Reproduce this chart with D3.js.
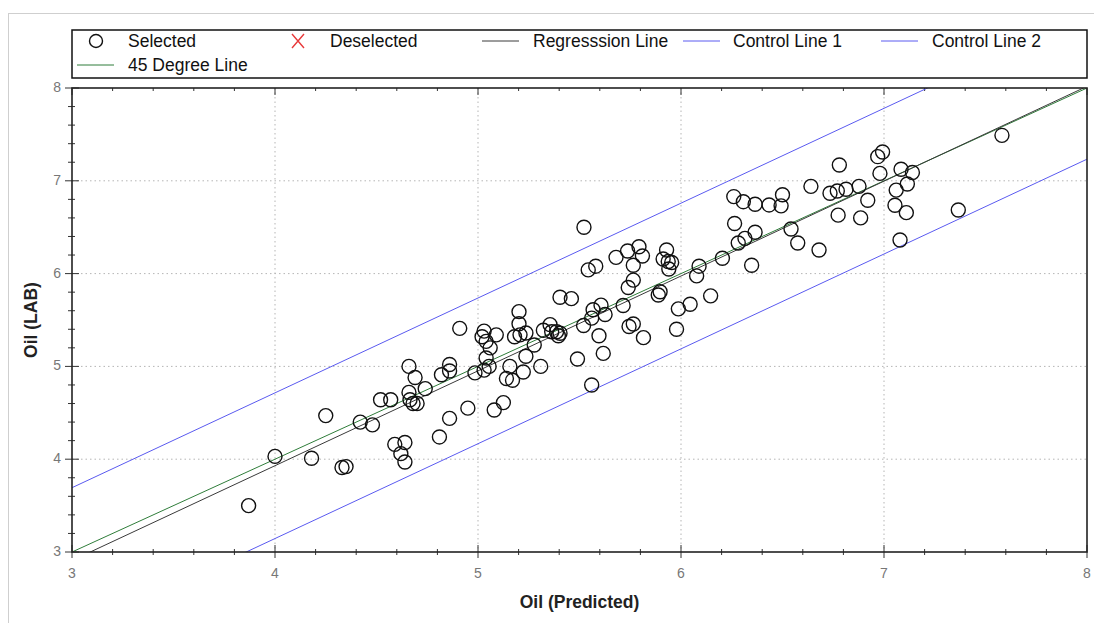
<!DOCTYPE html>
<html>
<head>
<meta charset="utf-8">
<script src="https://d3js.org/d3.v7.min.js"></script>
<style>
  body { margin: 0; background: #fff; }
  text { font-family: "Liberation Sans", Arial, sans-serif; }
  .tick-label { fill: #777; font-size: 14px; }
  .axis-title { font-size: 17.5px; font-weight: bold; fill: #222; }
  .legend-text { font-size: 17.5px; fill: #111; }
</style>
</head>
<body>
<div id="chart"></div>
<script>
// values
var predicted = [3.87, 4.00, 4.18, 4.25, 4.33, 4.35, 4.42, 4.48, 4.52, 4.57,
    4.59, 4.64, 4.62, 4.64, 4.66, 4.69, 4.66, 4.665, 4.68, 4.70,
    4.74, 4.81, 4.82, 4.86, 4.86, 4.86, 4.91, 4.95, 4.985, 5.03,
    5.02, 5.04, 5.06, 5.04, 5.055, 5.03, 5.08, 5.125, 5.09, 5.14,
    5.17, 5.157, 5.18, 5.207, 5.236, 5.202, 5.202, 5.223, 5.236, 5.277,
    5.309, 5.322, 5.355, 5.363, 5.387, 5.404, 5.396, 5.404, 5.46, 5.49,
    5.52, 5.56, 5.522, 5.543, 5.58, 5.567, 5.606, 5.56, 5.626, 5.596,
    5.617, 5.68, 5.737, 5.793, 5.81, 5.765, 5.715, 5.744, 5.765, 5.815,
    5.765, 5.74, 5.929, 5.912, 5.937, 5.954, 5.94, 5.897, 5.888, 5.987,
    6.045, 5.978, 6.089, 6.077, 6.146, 6.204, 6.26, 6.307, 6.365, 6.434,
    6.493, 6.50, 6.264, 6.282, 6.315, 6.365, 6.348, 6.542, 6.575, 6.68,
    6.64, 6.734, 6.77, 6.813, 6.877, 6.78, 6.774, 6.885, 6.92, 6.969,
    6.993, 6.98, 7.06, 7.115, 7.054, 7.11, 7.084, 7.14, 7.079, 7.366,
    7.581];
var lab = [3.50, 4.03, 4.01, 4.47, 3.91, 3.92, 4.40, 4.37, 4.64, 4.64,
    4.16, 4.18, 4.06, 3.97, 5.00, 4.88, 4.72, 4.64, 4.60, 4.60,
    4.76, 4.24, 4.91, 5.02, 4.95, 4.44, 5.41, 4.55, 4.93, 5.38,
    5.32, 5.27, 5.20, 5.09, 5.00, 4.96, 4.53, 4.61, 5.34, 4.87,
    4.85, 5.00, 5.32, 5.34, 5.36, 5.59, 5.46, 4.94, 5.11, 5.23,
    5.00, 5.39, 5.45, 5.374, 5.374, 5.357, 5.33, 5.745, 5.73, 5.08,
    5.44, 4.80, 6.50, 6.04, 6.08, 5.61, 5.66, 5.52, 5.56, 5.33,
    5.14, 6.175, 6.243, 6.29, 6.19, 6.09, 5.657, 5.43, 5.457, 5.31,
    5.93, 5.85, 6.255, 6.157, 6.13, 6.12, 6.05, 5.805, 5.77, 5.62,
    5.67, 5.40, 6.08, 5.975, 5.76, 6.165, 6.83, 6.775, 6.747, 6.74,
    6.73, 6.85, 6.54, 6.33, 6.38, 6.445, 6.09, 6.48, 6.33, 6.254,
    6.94, 6.866, 6.89, 6.909, 6.94, 7.17, 6.63, 6.60, 6.79, 7.26,
    7.31, 7.08, 6.90, 6.965, 6.736, 6.657, 7.125, 7.09, 6.362, 6.685,
    7.49];

var xTicks = [3, 4, 5, 6, 7, 8];
var yTicks = [3, 4, 5, 6, 7, 8];
var axisDomain = [3, 8];

// regression line y = a + b*x and control offset
var regIntercept = -0.158;
var regSlope = 1.022;
var controlOffset = 0.785;

var legendLabels = ["Selected", "Deselected", "Regresssion Line", "Control Line 1", "Control Line 2", "45 Degree Line"];

var margin = {top: 88, right: 7, bottom: 71, left: 72},
    width = 1094 - margin.left - margin.right,
    height = 623 - margin.top - margin.bottom;

var svg = d3.select("#chart")
    .append("svg")
        .attr("width", 1094)
        .attr("height", 623);

// outer panel frame
svg.append("rect")
    .attr("x", 8.5).attr("y", 13.5)
    .attr("width", 1100).attr("height", 620)
    .attr("fill", "none")
    .attr("stroke", "#cfcfcf");

var g = svg.append("g")
    .attr("transform", "translate(" + margin.left + "," + margin.top + ")");

var x = d3.scaleLinear().domain(axisDomain).range([0, width]);
var y = d3.scaleLinear().domain(axisDomain).range([height, 0]);

// dotted grid at major ticks
g.append("g").selectAll("line")
    .data(xTicks.slice(1, -1))
    .enter().append("line")
    .attr("x1", function(d) { return x(d); })
    .attr("x2", function(d) { return x(d); })
    .attr("y1", 0).attr("y2", height)
    .attr("stroke", "#b5b5b5")
    .attr("stroke-dasharray", "1.5,3");

g.append("g").selectAll("line")
    .data(yTicks.slice(1, -1))
    .enter().append("line")
    .attr("y1", function(d) { return y(d); })
    .attr("y2", function(d) { return y(d); })
    .attr("x1", 0).attr("x2", width)
    .attr("stroke", "#b5b5b5")
    .attr("stroke-dasharray", "1.5,3");

// minor ticks every 0.2
var minor = d3.range(30, 81, 2).map(function(v) { return v / 10; });

g.append("g").selectAll("line")
    .data(minor)
    .enter().append("line")
    .attr("x1", function(d) { return x(d); })
    .attr("x2", function(d) { return x(d); })
    .attr("y1", function(d) { return xTicks.indexOf(d) >= 0 ? height - 7 : height - 3; })
    .attr("y2", function(d) { return xTicks.indexOf(d) >= 0 ? height + 6 : height + 3; })
    .attr("stroke", "#333");

g.append("g").selectAll("line")
    .data(minor)
    .enter().append("line")
    .attr("x1", function(d) { return x(d); })
    .attr("x2", function(d) { return x(d); })
    .attr("y1", 0)
    .attr("y2", function(d) { return xTicks.indexOf(d) >= 0 ? 7 : 3; })
    .attr("stroke", "#333");

g.append("g").selectAll("line")
    .data(minor)
    .enter().append("line")
    .attr("y1", function(d) { return y(d); })
    .attr("y2", function(d) { return y(d); })
    .attr("x1", function(d) { return yTicks.indexOf(d) >= 0 ? -7 : -4; })
    .attr("x2", function(d) { return yTicks.indexOf(d) >= 0 ? 7 : 3; })
    .attr("stroke", "#333");

// tick labels
g.append("g").selectAll("text")
    .data(xTicks)
    .enter().append("text")
    .attr("class", "tick-label")
    .attr("x", function(d) { return x(d); })
    .attr("y", height + 26)
    .attr("text-anchor", "middle")
    .text(function(d) { return d; });

g.append("g").selectAll("text")
    .data(yTicks)
    .enter().append("text")
    .attr("class", "tick-label")
    .attr("x", -11)
    .attr("y", function(d) { return y(d) + 4; })
    .attr("text-anchor", "end")
    .text(function(d) { return d; });

// clip for the lines
g.append("clipPath").attr("id", "plot-clip")
    .append("rect").attr("width", width).attr("height", height);

var lineLayer = g.append("g").attr("clip-path", "url(#plot-clip)");

function addLine(fn, color) {
    var pts = axisDomain.map(function(v) { return [v, fn(v)]; });
    lineLayer.append("line")
        .attr("x1", x(pts[0][0])).attr("y1", y(pts[0][1]))
        .attr("x2", x(pts[1][0])).attr("y2", y(pts[1][1]))
        .attr("stroke", color)
        .attr("stroke-width", 1);
}

addLine(function(v) { return v; }, "#2f7d3a");
addLine(function(v) { return regIntercept + regSlope * v; }, "#3a3a3a");
addLine(function(v) { return regIntercept + regSlope * v + controlOffset; }, "#5a5af0");
addLine(function(v) { return regIntercept + regSlope * v - controlOffset; }, "#5a5af0");

// points
g.append("g").selectAll("circle")
    .data(predicted)
    .enter().append("circle")
    .attr("cx", function(d) { return x(d); })
    .attr("cy", function(d, i) { return y(lab[i]); })
    .attr("r", 7)
    .attr("fill", "none")
    .attr("stroke", "#111")
    .attr("stroke-width", 1.4);

// plot frame
g.append("rect")
    .attr("width", width).attr("height", height)
    .attr("fill", "none")
    .attr("stroke", "#222")
    .attr("stroke-width", 1.6);

// axis titles
svg.append("text")
    .attr("class", "axis-title")
    .attr("x", margin.left + width / 2)
    .attr("y", 608)
    .attr("text-anchor", "middle")
    .text("Oil (Predicted)");

svg.append("text")
    .attr("class", "axis-title")
    .attr("transform", "translate(37," + (margin.top + height / 2) + ") rotate(-90)")
    .attr("text-anchor", "middle")
    .text("Oil (LAB)");

// legend
var legend = svg.append("g");
legend.append("rect")
    .attr("x", 72).attr("y", 30)
    .attr("width", 1015).attr("height", 48)
    .attr("fill", "#fff")
    .attr("stroke", "#111")
    .attr("stroke-width", 1.5);

var row1 = 41, row2 = 65;

legend.append("circle")
    .attr("cx", 96).attr("cy", row1)
    .attr("r", 6.5).attr("fill", "none")
    .attr("stroke", "#111").attr("stroke-width", 1.4);

legend.append("path")
    .attr("d", "M292," + (row1 - 7) + "L304," + (row1 + 7) + "M304," + (row1 - 7) + "L292," + (row1 + 7))
    .attr("stroke", "#e8393a").attr("stroke-width", 1.4);

var legendLines = [
    {x: 482, y: row1, color: "#3a3a3a"},
    {x: 683, y: row1, color: "#5a5af0"},
    {x: 881, y: row1, color: "#5a5af0"},
    {x: 77, y: row2, color: "#2f7d3a"}
];
legend.selectAll(".lg-line")
    .data(legendLines)
    .enter().append("line")
    .attr("class", "lg-line")
    .attr("x1", function(d) { return d.x; })
    .attr("x2", function(d) { return d.x + 37; })
    .attr("y1", function(d) { return d.y; })
    .attr("y2", function(d) { return d.y; })
    .attr("stroke", function(d) { return d.color; });

var legendPos = [[128, row1], [330, row1], [533, row1], [733, row1], [932, row1], [128, row2]];
legend.selectAll(".legend-text")
    .data(legendLabels)
    .enter().append("text")
    .attr("class", "legend-text")
    .attr("x", function(d, i) { return legendPos[i][0]; })
    .attr("y", function(d, i) { return legendPos[i][1] + 6; })
    .text(function(d) { return d; });
</script>
</body>
</html>
